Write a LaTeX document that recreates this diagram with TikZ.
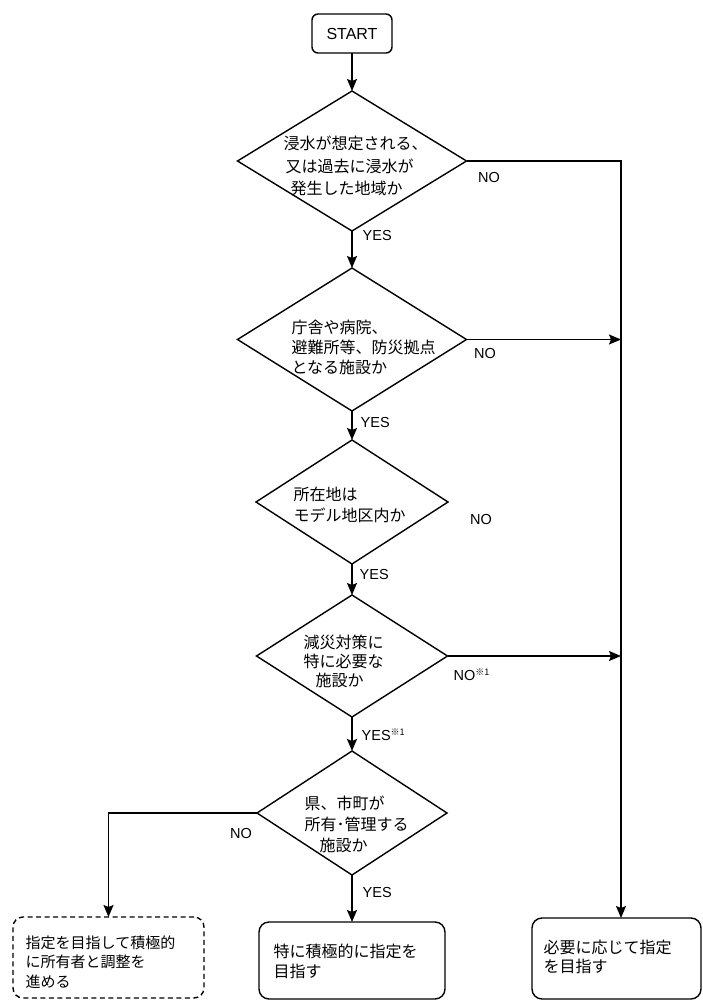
\documentclass[tikz,border=0pt]{standalone}
\usepackage{fontspec}
\setmainfont{Liberation Sans}
\newfontfamily\jpfont{Noto Sans CJK JP}
\usetikzlibrary{shapes.geometric,arrows.meta}
\begin{document}
\begin{tikzpicture}[x=1pt,y=-1pt,
  line width=1.4pt,
  arr/.style={-{Stealth[width=10pt,length=12pt,inset=2pt]}},
  dia/.style={draw,shape=diamond,inner sep=0pt,outer sep=0pt,line join=miter},
  jtext/.style={font=\jpfont\fontsize{16}{21}\selectfont,align=left,anchor=west,inner sep=0pt},
  lab/.style={font=\fontsize{14.5}{17}\selectfont,inner sep=0pt},
  endbox/.style={draw,rounded corners=10pt,inner sep=0pt,outer sep=0pt}
]
\useasboundingbox (0,0) rectangle (702,1001);
\fill[white] (0,0) rectangle (702,1001);

% start
\node[draw,rounded corners=6pt,minimum width=80pt,minimum height=39pt,inner sep=0pt,outer sep=0pt,font=\fontsize{16}{18}\selectfont] (start) at (352,33.5) {START};

% diamonds
\node[dia,minimum width=229pt,minimum height=140pt] (d1) at (352,161) {};
\node[dia,minimum width=229pt,minimum height=143pt] (d2) at (352,339.5) {};
\node[dia,minimum width=192pt,minimum height=124pt] (d3) at (352,502) {};
\node[dia,minimum width=191pt,minimum height=122pt] (d4) at (352,656) {};
\node[dia,minimum width=190pt,minimum height=124pt] (d5) at (352,813) {};

% diamond texts
\node[jtext,font=\jpfont\fontsize{16}{22.5}\selectfont] (t1) at (283,166) {浸水が想定される、\\\hspace*{2pt}又は過去に浸水が\\\hspace*{7pt}発生した地域か};
\node[jtext,font=\jpfont\fontsize{16}{20}\selectfont] (t2) at (291,347.5) {庁舎や病院、\\避難所等、防災拠点\\となる施設か};
\node[jtext] (t3) at (293,504.5) {所在地は\\モデル地区内か};
\node[jtext,font=\jpfont\fontsize{16}{19}\selectfont] (t4) at (303,661) {減災対策に\\特に必要な\\\hspace*{12pt}施設か};
\node[jtext] (t5) at (304,824) {県、市町が\\所有･管理する\\\hspace*{15pt}施設か};

% end boxes
\node[endbox,dashed,dash pattern=on 5pt off 3.5pt,minimum width=191pt,minimum height=81pt] (b1) at (108.5,957.5) {};
\node[endbox,minimum width=186pt,minimum height=77pt] (b2) at (352,960.5) {};
\node[endbox,minimum width=169pt,minimum height=81pt] (b3) at (616.5,958.5) {};

\node[jtext,font=\jpfont\fontsize{15}{19.5}\selectfont] (bt1) at (25,962) {指定を目指して積極的\\に所有者と調整を\\進める};
\node[jtext,font=\jpfont\fontsize{16}{20}\selectfont] (bt2) at (273,961) {特に積極的に指定を\\目指す};
\node[jtext,font=\jpfont\fontsize{16}{19}\selectfont] (bt3) at (543,957) {必要に応じて指定\\を目指す};

% connectors
\coordinate (rv) at (621,161);
\draw[arr] (start.south) -- (d1.north);
\draw[arr] (d1.south) -- (d2.north);
\draw[arr] (d2.south) -- (d3.north);
\draw[arr] (d3.south) -- (d4.north);
\draw[arr] (d4.south) -- (d5.north);
\draw[arr] (d5.south) -- (b2.north);
\draw[arr] (d5.west) -| (b1.north);
\draw[arr] (d1.east) -- (rv) -- (rv |- b3.north);
\draw[arr] (d2.east) -- (d2.east -| rv);
\draw[arr] (d4.east) -- (d4.east -| rv);

% labels
\node[lab,anchor=west] (y1) at (362,236) {YES};
\node[lab] (n1) at (489,178) {NO};
\node[lab,anchor=west] (y2) at (360,423) {YES};
\node[lab] (n2) at (485,354) {NO};
\node[lab,anchor=west] (y3) at (359,575) {YES};
\node[lab] (n3) at (481,520) {NO};
\node[lab,anchor=west] (y4) at (361,735) {YES\raisebox{5pt}{\jpfont\fontsize{9}{9}\selectfont ※1}};
\node[lab,anchor=west] (n4) at (453,675) {NO\raisebox{5pt}{\jpfont\fontsize{9}{9}\selectfont ※1}};
\node[lab] (n5) at (241,833) {NO};
\node[lab,anchor=west] (y5) at (362,892) {YES};
\end{tikzpicture}
\end{document}
